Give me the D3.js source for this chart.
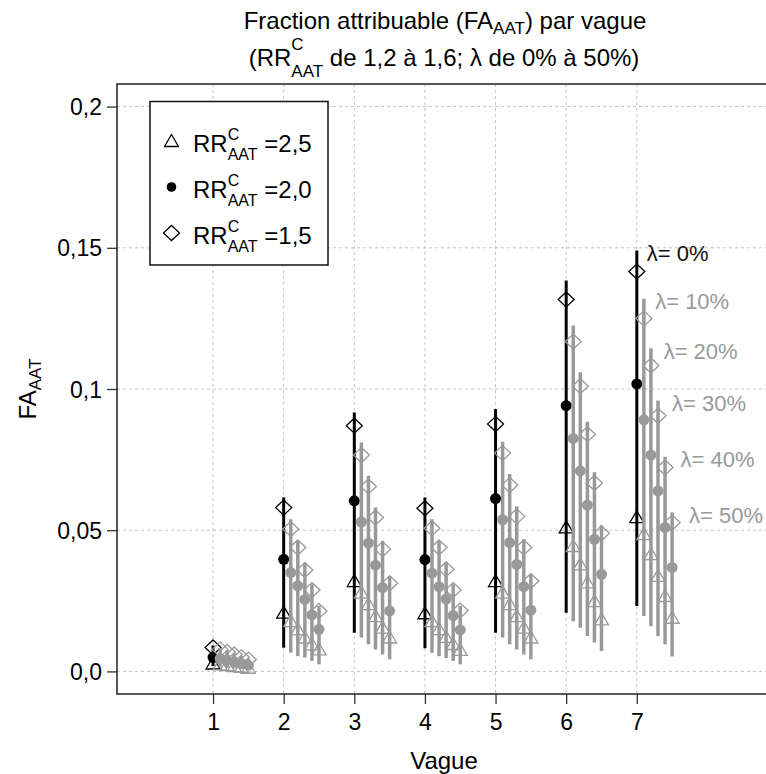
<!DOCTYPE html>
<html>
<head>
<meta charset="utf-8">
<script src="https://cdn.jsdelivr.net/npm/d3@7"></script>
<style>
  body { margin: 0; background: #fff; }
  text { font-family: 'Liberation Sans', Arial, sans-serif; white-space: pre; }
</style>
</head>
<body>
<svg id="chart" width="766" height="774"></svg>
<script>
const svg = d3.select('#chart')

// waves on the x axis, lambda steps inside each wave
const waves = [1, 2, 3, 4, 5, 6, 7]
const lambdas = [0, 10, 20, 30, 40, 50]
const yTicks = [0, 0.05, 0.1, 0.15, 0.2]
const yTickLabels = ['0,0', '0,05', '0,1', '0,15', '0,2']
const legendLabels = ['2,5', '2,0', '1,5']

// one row per wave, one value per lambda
const faRR15 = [ // diamonds
  [0.0085, 0.0078, 0.0069, 0.0060, 0.0050, 0.0042],
  [0.0580, 0.0504, 0.0439, 0.0359, 0.0288, 0.0214],
  [0.0870, 0.0766, 0.0655, 0.0545, 0.0433, 0.0312],
  [0.0578, 0.0507, 0.0439, 0.0362, 0.0288, 0.0216],
  [0.0876, 0.0773, 0.0660, 0.0549, 0.0439, 0.0320],
  [0.1317, 0.1168, 0.1010, 0.0840, 0.0667, 0.0489],
  [0.1416, 0.1250, 0.1083, 0.0905, 0.0722, 0.0527]
]
const faRR20 = [ // dots
  [0.0050, 0.0045, 0.0040, 0.0034, 0.0028, 0.0022],
  [0.0397, 0.0350, 0.0303, 0.0255, 0.0200, 0.0149],
  [0.0604, 0.0529, 0.0454, 0.0376, 0.0297, 0.0214],
  [0.0396, 0.0348, 0.0300, 0.0256, 0.0198, 0.0147],
  [0.0612, 0.0537, 0.0456, 0.0379, 0.0300, 0.0217],
  [0.0941, 0.0825, 0.0710, 0.0589, 0.0468, 0.0344],
  [0.1018, 0.0891, 0.0766, 0.0639, 0.0510, 0.0368]
]
const faRR25 = [ // triangles
  [0.0028, 0.0025, 0.0022, 0.0019, 0.0016, 0.0013],
  [0.0208, 0.0178, 0.0149, 0.0120, 0.0096, 0.0078],
  [0.0320, 0.0279, 0.0238, 0.0196, 0.0155, 0.0120],
  [0.0206, 0.0178, 0.0150, 0.0122, 0.0097, 0.0076],
  [0.0320, 0.0279, 0.0238, 0.0196, 0.0155, 0.0120],
  [0.0510, 0.0444, 0.0379, 0.0315, 0.0249, 0.0184],
  [0.0546, 0.0486, 0.0415, 0.0338, 0.0267, 0.0190]
]
const ciHigh = [
  [0.0092, 0.0083, 0.0074, 0.0065, 0.0055, 0.0046],
  [0.0616, 0.0539, 0.0462, 0.0385, 0.0309, 0.0232],
  [0.0917, 0.0811, 0.0693, 0.0580, 0.0462, 0.0338],
  [0.0616, 0.0539, 0.0462, 0.0385, 0.0309, 0.0232],
  [0.0929, 0.0813, 0.0699, 0.0584, 0.0468, 0.0344],
  [0.1384, 0.1225, 0.1059, 0.0884, 0.0705, 0.0518],
  [0.1490, 0.1320, 0.1144, 0.0959, 0.0760, 0.0563]
]
const ciLow = [
  [0.0019, 0.0015, 0.0013, 0.0011, 0.0009, 0.0007],
  [0.0084, 0.0066, 0.0054, 0.0049, 0.0037, 0.0025],
  [0.0137, 0.0120, 0.0096, 0.0078, 0.0060, 0.0043],
  [0.0082, 0.0066, 0.0054, 0.0047, 0.0037, 0.0025],
  [0.0137, 0.0120, 0.0096, 0.0078, 0.0060, 0.0043],
  [0.0208, 0.0178, 0.0155, 0.0125, 0.0102, 0.0072],
  [0.0232, 0.0196, 0.0160, 0.0125, 0.0096, 0.0053]
]

const x = d3.scaleLinear().domain([-0.36, 8.9]).range([117, 771])
const y = d3.scaleLinear().domain([-0.008, 0.208]).range([694, 84])
const grey = '#999999'
const colorOf = k => k === 0 ? '#000' : grey

const triPath = 'M0,-6.5L7,5.5L-7,5.5Z'
const diaPath = 'M0,-7.5L8,0L0,7.5L-8,0Z'

// text made of pieces, with sub/superscripts stacked like plotmath
function richText (parent, parts, size, subSize) {
  const g = parent.append('g')
  let cx = 0
  parts.forEach(p => {
    let w = 0
    if (p.t) {
      const t = g.append('text').attr('x', cx).attr('font-size', size).text(p.t)
      w = t.node().getComputedTextLength()
    }
    if (p.sup) {
      const t = g.append('text').attr('x', cx).attr('y', p.supDy)
        .attr('font-size', subSize).text(p.sup)
      w = Math.max(w, t.node().getComputedTextLength())
    }
    if (p.sub) {
      const t = g.append('text').attr('x', cx).attr('y', p.subDy)
        .attr('font-size', subSize).text(p.sub)
      w = Math.max(w, t.node().getComputedTextLength())
    }
    cx += w
  })
  return { g: g, width: cx }
}

// grid
const grid = svg.append('g')
grid.selectAll('.vg')
  .data(waves).enter()
  .append('line')
  .attr('x1', d => x(d)).attr('x2', d => x(d))
  .attr('y1', y.range()[1]).attr('y2', y.range()[0])
grid.selectAll('.hg')
  .data(yTicks).enter()
  .append('line')
  .attr('x1', x.range()[0]).attr('x2', x.range()[1])
  .attr('y1', d => y(d)).attr('y2', d => y(d))
grid.selectAll('line')
  .attr('stroke', '#c4c4c4')
  .attr('stroke-width', 1)
  .attr('stroke-dasharray', '3,3')

// axes
svg.append('g')
  .attr('transform', 'translate(0,' + y.range()[0] + ')')
  .call(d3.axisBottom(x).tickValues(waves).tickSize(10).tickSizeOuter(0))
  .call(g => g.select('.domain').remove())
  .call(g => g.selectAll('line').attr('stroke', '#333').attr('stroke-width', 1.3))
  .call(g => g.selectAll('text').attr('y', 36).attr('dy', 0)
    .attr('font-size', 23).attr('font-family', null).attr('fill', '#000'))

svg.append('g')
  .attr('transform', 'translate(' + x.range()[0] + ',0)')
  .call(d3.axisLeft(y).tickValues(yTicks).tickSize(10).tickSizeOuter(0)
    .tickFormat((d, i) => yTickLabels[i]))
  .call(g => g.select('.domain').remove())
  .call(g => g.selectAll('line').attr('stroke', '#333').attr('stroke-width', 1.3))
  .call(g => g.selectAll('text').attr('x', -15).attr('dy', '0.35em')
    .attr('font-size', 23).attr('font-family', null).attr('fill', '#000'))

// plot box
svg.append('rect')
  .attr('x', x.range()[0]).attr('y', y.range()[1])
  .attr('width', x.range()[1] - x.range()[0])
  .attr('height', y.range()[0] - y.range()[1])
  .attr('fill', 'none')
  .attr('stroke', '#222')
  .attr('stroke-width', 1.5)

// error bars and points
const rows = []
waves.forEach((w, i) => {
  lambdas.forEach((l, k) => {
    rows.push({
      k: k,
      xv: w + k * 0.1,
      lo: ciLow[i][k],
      hi: ciHigh[i][k],
      tri: faRR25[i][k],
      dot: faRR20[i][k],
      dia: faRR15[i][k]
    })
  })
})

const marks = svg.append('g')
  .selectAll('g')
  .data(rows).enter()
  .append('g')

marks.append('line')
  .attr('x1', d => x(d.xv)).attr('x2', d => x(d.xv))
  .attr('y1', d => y(d.lo)).attr('y2', d => y(d.hi))
  .attr('stroke', d => colorOf(d.k))
  .attr('stroke-width', d => d.k === 0 ? 3 : 3.5)

marks.append('path')
  .attr('d', triPath)
  .attr('transform', d => 'translate(' + x(d.xv) + ',' + y(d.tri) + ')')
  .attr('fill', 'none')
  .attr('stroke', d => colorOf(d.k))
  .attr('stroke-width', 1.3)

marks.append('circle')
  .attr('cx', d => x(d.xv)).attr('cy', d => y(d.dot))
  .attr('r', 5.5)
  .attr('fill', d => colorOf(d.k))

marks.append('path')
  .attr('d', diaPath)
  .attr('transform', d => 'translate(' + x(d.xv) + ',' + y(d.dia) + ')')
  .attr('fill', 'none')
  .attr('stroke', d => colorOf(d.k))
  .attr('stroke-width', 1.3)

// lambda labels next to the last wave
const last = waves.length - 1
svg.append('g')
  .selectAll('text')
  .data(lambdas).enter()
  .append('text')
  .attr('x', (d, k) => x(waves[last] + 0.14 + k * 0.12))
  .attr('y', (d, k) => y(ciHigh[last][k]) + 2.5)
  .attr('dy', '0.35em')
  .attr('font-size', 22)
  .attr('fill', (d, k) => k === 0 ? '#111' : grey)
  .text(d => 'λ= ' + d + '%')

// legend
const legend = svg.append('g')
legend.append('rect')
  .attr('x', 150).attr('y', 101.5)
  .attr('width', 178).attr('height', 163.5)
  .attr('fill', '#fff')
  .attr('stroke', '#111')
  .attr('stroke-width', 1.5)

legendLabels.forEach((lab, i) => {
  const cy = 141 + i * 46
  if (i === 0) {
    legend.append('path').attr('d', triPath)
      .attr('transform', 'translate(171.5,' + cy + ')')
      .attr('fill', 'none').attr('stroke', '#000').attr('stroke-width', 1.3)
  } else if (i === 1) {
    legend.append('circle').attr('cx', 171.5).attr('cy', cy).attr('r', 4.8).attr('fill', '#000')
  } else {
    legend.append('path').attr('d', diaPath)
      .attr('transform', 'translate(171.5,' + cy + ')')
      .attr('fill', 'none').attr('stroke', '#000').attr('stroke-width', 1.3)
  }
  const r = richText(legend, [
    { t: 'RR' },
    { sup: 'C', supDy: -12, sub: 'AAT', subDy: 8.5 },
    { t: ' =' + lab }
  ], 24, 16)
  r.g.attr('transform', 'translate(193,' + (cy + 10.5) + ')')
})

// titles
const t1 = richText(svg, [
  { t: 'Fraction attribuable (FA' },
  { sub: 'AAT', subDy: 5 },
  { t: ') par vague' }
], 24, 17)
t1.g.attr('transform', 'translate(' + (445 - t1.width / 2) + ',28.5)')

const t2 = richText(svg, [
  { t: '(RR' },
  { sup: 'C', supDy: -16, sub: 'AAT', subDy: 11 },
  { t: ' de 1,2 à 1,6; λ de 0% à 50%)' }
], 24, 17)
t2.g.attr('transform', 'translate(' + (444 - t2.width / 2) + ',66)')

// axis titles
const xl = richText(svg, [{ t: 'Vague' }], 24, 17)
xl.g.attr('transform', 'translate(' + (444 - xl.width / 2) + ',769)')

const yl = richText(svg, [{ t: 'FA' }, { sub: 'AAT', subDy: 5 }], 24, 17)
yl.g.attr('transform', 'translate(36,' + (389 + yl.width / 2) + ') rotate(-90)')
</script>
</body>
</html>
